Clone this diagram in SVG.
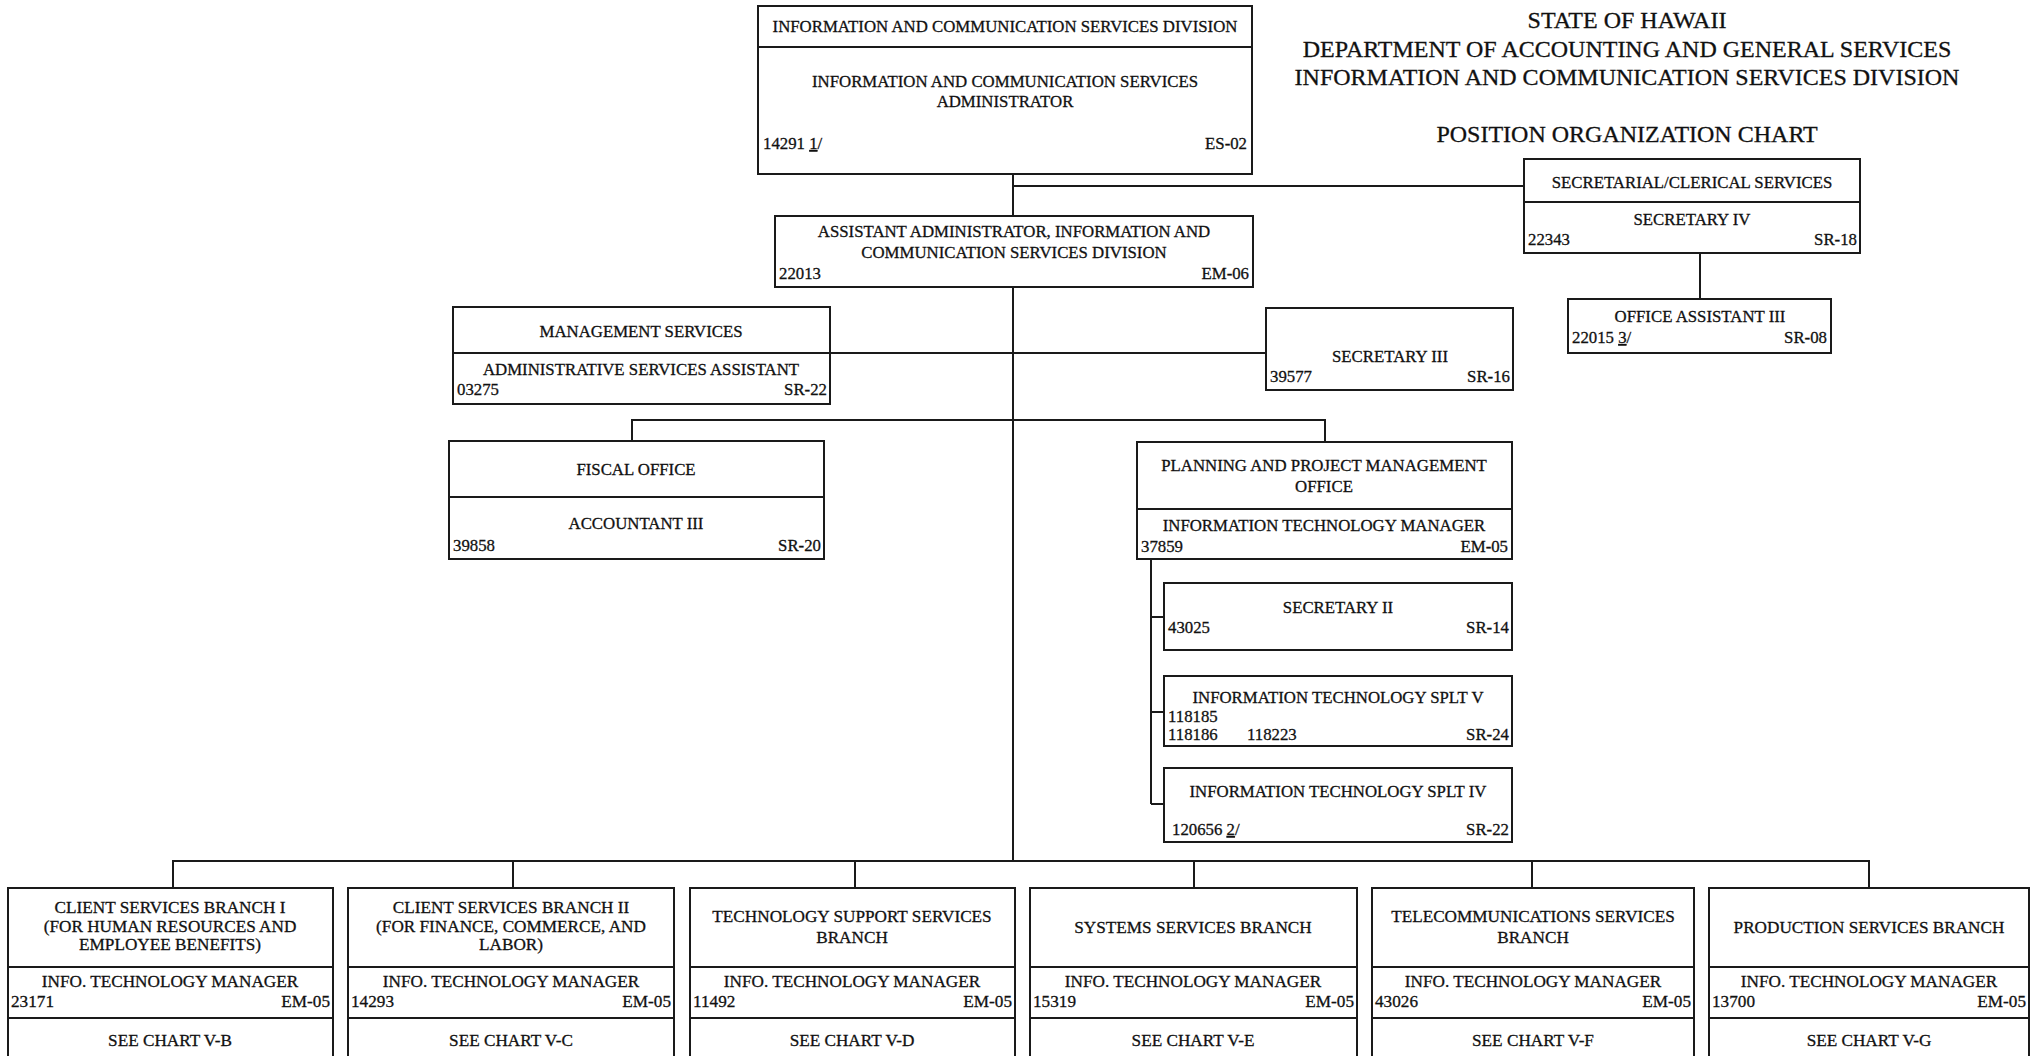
<svg xmlns="http://www.w3.org/2000/svg" width="2032" height="1056" viewBox="0 0 2032 1056">
<style>
.bx{fill:#fff;stroke:#1a1a1a;stroke-width:2}
.ln{stroke:#1a1a1a;stroke-width:2;fill:none}
.t{font-family:"Liberation Serif","Times New Roman",serif;font-size:16.8px;fill:#111;stroke:#111;stroke-width:0.3}
.b .t{font-size:17.2px}
.c{text-anchor:middle}
.r{text-anchor:end}
.ti{font-family:"Liberation Serif","Times New Roman",serif;font-size:24px;fill:#111;stroke:#111;stroke-width:0.3;text-anchor:middle}
.u{text-decoration:underline}
</style>
<rect width="2032" height="1056" fill="#fff"/>

<g id="titles">
<text class="ti" x="1627" y="28">STATE OF HAWAII</text>
<text class="ti" x="1627" y="57">DEPARTMENT OF ACCOUNTING AND GENERAL SERVICES</text>
<text class="ti" x="1627" y="85">INFORMATION AND COMMUNICATION SERVICES DIVISION</text>
<text class="ti" x="1627" y="142">POSITION ORGANIZATION CHART</text>
</g>

<g id="connectors">
<path class="ln" d="M1013 174V216M1013 287V861M1013 186H1524M1700 253V299M830 353H1266M632 441V420H1325V442M1151 559V804M1151 617H1164M1151 712H1164M1151 804H1164"/>
<path class="ln" d="M173 888V861H1869V888M513 861V888M855 861V888M1194 861V888M1532 861V888"/>
</g>

<g id="icsd">
<rect class="bx" x="758" y="6" width="494" height="168"/>
<path class="ln" d="M758 47H1252"/>
<text class="t c" x="1005" y="32">INFORMATION AND COMMUNICATION SERVICES DIVISION</text>
<text class="t c" x="1005" y="87">INFORMATION AND COMMUNICATION SERVICES</text>
<text class="t c" x="1005" y="107">ADMINISTRATOR</text>
<text class="t" x="763" y="149">14291 <tspan class="u">1</tspan>/</text>
<text class="t r" x="1247" y="149">ES-02</text>
</g>

<g id="assistant">
<rect class="bx" x="775" y="216" width="478" height="71"/>
<text class="t c" x="1014" y="237">ASSISTANT ADMINISTRATOR, INFORMATION AND</text>
<text class="t c" x="1014" y="258">COMMUNICATION SERVICES DIVISION</text>
<text class="t" x="779" y="279">22013</text>
<text class="t r" x="1249" y="279">EM-06</text>
</g>

<g id="secretarial">
<rect class="bx" x="1524" y="159" width="336" height="94"/>
<path class="ln" d="M1524 202H1860"/>
<text class="t c" x="1692" y="188">SECRETARIAL/CLERICAL SERVICES</text>
<text class="t c" x="1692" y="225">SECRETARY IV</text>
<text class="t" x="1528" y="245">22343</text>
<text class="t r" x="1857" y="245">SR-18</text>
</g>

<g id="office-assistant">
<rect class="bx" x="1568" y="299" width="263" height="54"/>
<text class="t c" x="1700" y="322">OFFICE ASSISTANT III</text>
<text class="t" x="1572" y="343">22015 <tspan class="u">3</tspan>/</text>
<text class="t r" x="1827" y="343">SR-08</text>
</g>

<g id="management">
<rect class="bx" x="453" y="307" width="377" height="97"/>
<path class="ln" d="M453 353H830"/>
<text class="t c" x="641" y="337">MANAGEMENT SERVICES</text>
<text class="t c" x="641" y="375">ADMINISTRATIVE SERVICES ASSISTANT</text>
<text class="t" x="457" y="395">03275</text>
<text class="t r" x="827" y="395">SR-22</text>
</g>

<g id="secretary3">
<rect class="bx" x="1266" y="308" width="247" height="82"/>
<text class="t c" x="1390" y="362">SECRETARY III</text>
<text class="t" x="1270" y="382">39577</text>
<text class="t r" x="1510" y="382">SR-16</text>
</g>

<g id="fiscal">
<rect class="bx" x="449" y="441" width="375" height="118"/>
<path class="ln" d="M449 497H824"/>
<text class="t c" x="636" y="475">FISCAL OFFICE</text>
<text class="t c" x="636" y="529">ACCOUNTANT III</text>
<text class="t" x="453" y="551">39858</text>
<text class="t r" x="821" y="551">SR-20</text>
</g>

<g id="planning">
<rect class="bx" x="1137" y="442" width="375" height="117"/>
<path class="ln" d="M1137 509H1512"/>
<text class="t c" x="1324" y="471">PLANNING AND PROJECT MANAGEMENT</text>
<text class="t c" x="1324" y="492">OFFICE</text>
<text class="t c" x="1324" y="531">INFORMATION TECHNOLOGY MANAGER</text>
<text class="t" x="1141" y="552">37859</text>
<text class="t r" x="1508" y="552">EM-05</text>
</g>

<g id="secretary2">
<rect class="bx" x="1164" y="583" width="348" height="67"/>
<text class="t c" x="1338" y="613">SECRETARY II</text>
<text class="t" x="1168" y="633">43025</text>
<text class="t r" x="1509" y="633">SR-14</text>
</g>

<g id="splt5">
<rect class="bx" x="1164" y="676" width="348" height="70"/>
<text class="t c" x="1338" y="703">INFORMATION TECHNOLOGY SPLT V</text>
<text class="t" x="1168" y="722">118185</text>
<text class="t" x="1168" y="740">118186</text>
<text class="t" x="1247" y="740">118223</text>
<text class="t r" x="1509" y="740">SR-24</text>
</g>

<g id="splt4">
<rect class="bx" x="1164" y="768" width="348" height="74"/>
<text class="t c" x="1338" y="797">INFORMATION TECHNOLOGY SPLT IV</text>
<text class="t" x="1172" y="835">120656 <tspan class="u">2</tspan>/</text>
<text class="t r" x="1509" y="835">SR-22</text>
</g>

<g id="branch-csb1" class="b">
<rect class="bx" x="8" y="888" width="325" height="172"/>
<path class="ln" d="M8 967H333M8 1018H333"/>
<text class="t c" x="170" y="913">CLIENT SERVICES BRANCH I</text>
<text class="t c" x="170" y="932">(FOR HUMAN RESOURCES AND</text>
<text class="t c" x="170" y="950">EMPLOYEE BENEFITS)</text>
<text class="t c" x="170" y="987">INFO. TECHNOLOGY MANAGER</text>
<text class="t" x="11" y="1007">23171</text>
<text class="t r" x="330" y="1007">EM-05</text>
<text class="t c" x="170" y="1046">SEE CHART V-B</text>
</g>

<g id="branch-csb2" class="b">
<rect class="bx" x="348" y="888" width="326" height="172"/>
<path class="ln" d="M348 967H674M348 1018H674"/>
<text class="t c" x="511" y="913">CLIENT SERVICES BRANCH II</text>
<text class="t c" x="511" y="932">(FOR FINANCE, COMMERCE, AND</text>
<text class="t c" x="511" y="950">LABOR)</text>
<text class="t c" x="511" y="987">INFO. TECHNOLOGY MANAGER</text>
<text class="t" x="351" y="1007">14293</text>
<text class="t r" x="671" y="1007">EM-05</text>
<text class="t c" x="511" y="1046">SEE CHART V-C</text>
</g>

<g id="branch-tss" class="b">
<rect class="bx" x="690" y="888" width="325" height="172"/>
<path class="ln" d="M690 967H1015M690 1018H1015"/>
<text class="t c" x="852" y="922">TECHNOLOGY SUPPORT SERVICES</text>
<text class="t c" x="852" y="943">BRANCH</text>
<text class="t c" x="852" y="987">INFO. TECHNOLOGY MANAGER</text>
<text class="t" x="693" y="1007">11492</text>
<text class="t r" x="1012" y="1007">EM-05</text>
<text class="t c" x="852" y="1046">SEE CHART V-D</text>
</g>

<g id="branch-ssb" class="b">
<rect class="bx" x="1030" y="888" width="327" height="172"/>
<path class="ln" d="M1030 967H1357M1030 1018H1357"/>
<text class="t c" x="1193" y="933">SYSTEMS SERVICES BRANCH</text>
<text class="t c" x="1193" y="987">INFO. TECHNOLOGY MANAGER</text>
<text class="t" x="1033" y="1007">15319</text>
<text class="t r" x="1354" y="1007">EM-05</text>
<text class="t c" x="1193" y="1046">SEE CHART V-E</text>
</g>

<g id="branch-tsb" class="b">
<rect class="bx" x="1372" y="888" width="322" height="172"/>
<path class="ln" d="M1372 967H1694M1372 1018H1694"/>
<text class="t c" x="1533" y="922">TELECOMMUNICATIONS SERVICES</text>
<text class="t c" x="1533" y="943">BRANCH</text>
<text class="t c" x="1533" y="987">INFO. TECHNOLOGY MANAGER</text>
<text class="t" x="1375" y="1007">43026</text>
<text class="t r" x="1691" y="1007">EM-05</text>
<text class="t c" x="1533" y="1046">SEE CHART V-F</text>
</g>

<g id="branch-psb" class="b">
<rect class="bx" x="1709" y="888" width="320" height="172"/>
<path class="ln" d="M1709 967H2029M1709 1018H2029"/>
<text class="t c" x="1869" y="933">PRODUCTION SERVICES BRANCH</text>
<text class="t c" x="1869" y="987">INFO. TECHNOLOGY MANAGER</text>
<text class="t" x="1712" y="1007">13700</text>
<text class="t r" x="2026" y="1007">EM-05</text>
<text class="t c" x="1869" y="1046">SEE CHART V-G</text>
</g>
</svg>
